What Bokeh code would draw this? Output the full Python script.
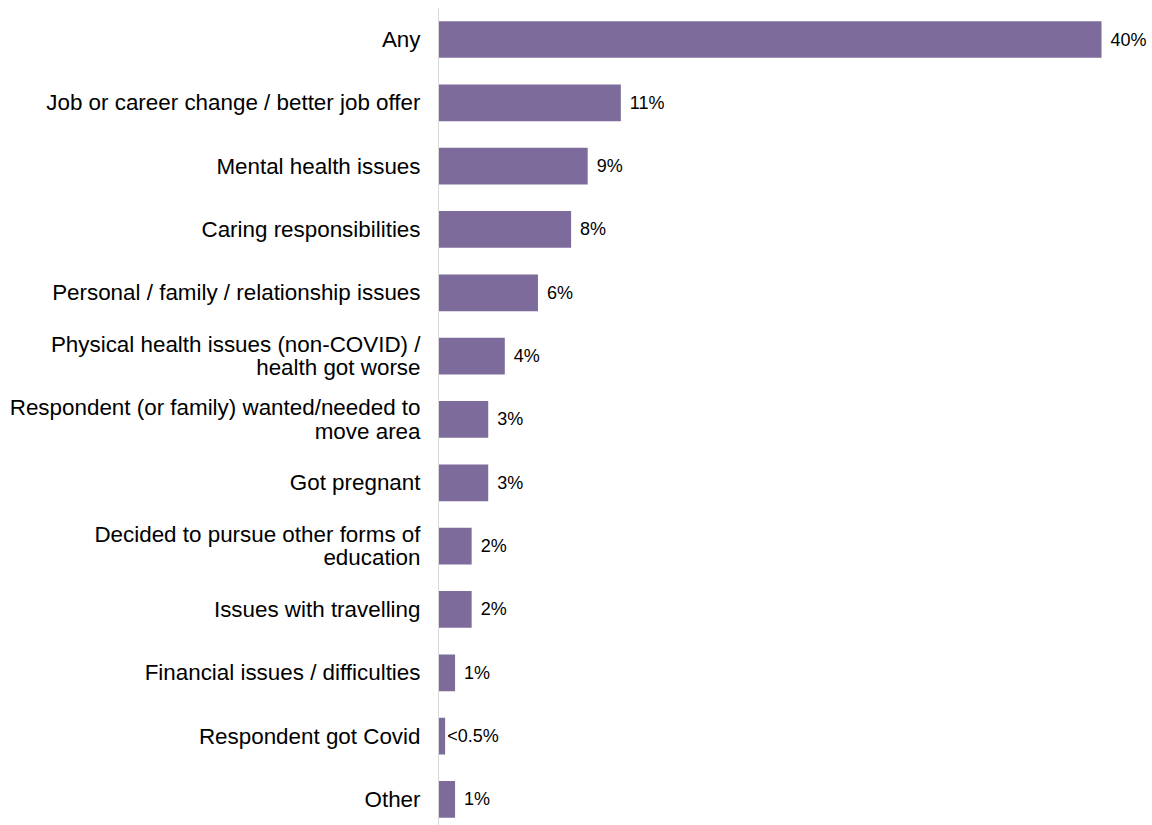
from bokeh.plotting import figure
from bokeh.models import ColumnDataSource, Range1d, FixedTicker
from bokeh.core.properties import value
from bokeh.embed import file_html
from bokeh.resources import INLINE

categories = [
    "Any",
    "Job or career change / better job offer",
    "Mental health issues",
    "Caring responsibilities",
    "Personal / family / relationship issues",
    "Physical health issues (non-COVID) /\nhealth got worse",
    "Respondent (or family) wanted/needed to\nmove area",
    "Got pregnant",
    "Decided to pursue other forms of\neducation",
    "Issues with travelling",
    "Financial issues / difficulties",
    "Respondent got Covid",
    "Other",
]
values = [40, 11, 9, 8, 6, 4, 3, 3, 2, 2, 1, 0.4, 1]
labels = ["40%", "11%", "9%", "8%", "6%", "4%", "3%", "3%", "2%", "2%", "1%", "<0.5%", "1%"]

FONT = "Liberation Sans"
BAR = "#7D6B9B"

idx = list(range(len(categories)))
offsets = [2 if t.startswith("<") else 9 for t in labels]
src = ColumnDataSource(dict(y=idx, v=values, lab=labels, off=offsets))

W, H = 1152, 825
left = 438
top = 8
unit = 63.33
top_pad = 31
frame_h = H - top
y_top = -top_pad / unit
y_bot = y_top + frame_h / unit
x_end = (W - left) / 16.575

p = figure(width=W, height=H, output_backend="svg", toolbar_location=None,
           x_range=Range1d(0, x_end), y_range=Range1d(y_bot, y_top),
           x_axis_location=None, min_border_left=left, min_border_right=0,
           min_border_top=top, min_border_bottom=0)
p.outline_line_color = None
p.grid.visible = False
p.background_fill_color = "white"
p.border_fill_color = "white"

p.hbar(y="y", right="v", left=0, height=0.58, source=src, color=BAR, line_color=None)
p.text(x="v", y="y", text="lab", x_offset="off", source=src, text_align="left",
       text_baseline="middle", text_font=value(FONT), text_font_size="18px", text_color="#000000")

ax = p.yaxis[0]
ax.ticker = FixedTicker(ticks=idx)
ax.major_label_overrides = {i: c for i, c in enumerate(categories)}
ax.major_label_text_font = FONT
ax.major_label_text_font_size = "22.4px"
ax.major_label_text_line_height = 0.93
ax.major_label_text_color = "#000000"
ax.major_tick_line_color = None
ax.minor_tick_line_color = None
ax.major_tick_out = 0
ax.major_label_standoff = 18
ax.axis_line_color = "#D9D9D9"
ax.axis_line_width = 1

open("out.html", "w").write(file_html(p, INLINE))
